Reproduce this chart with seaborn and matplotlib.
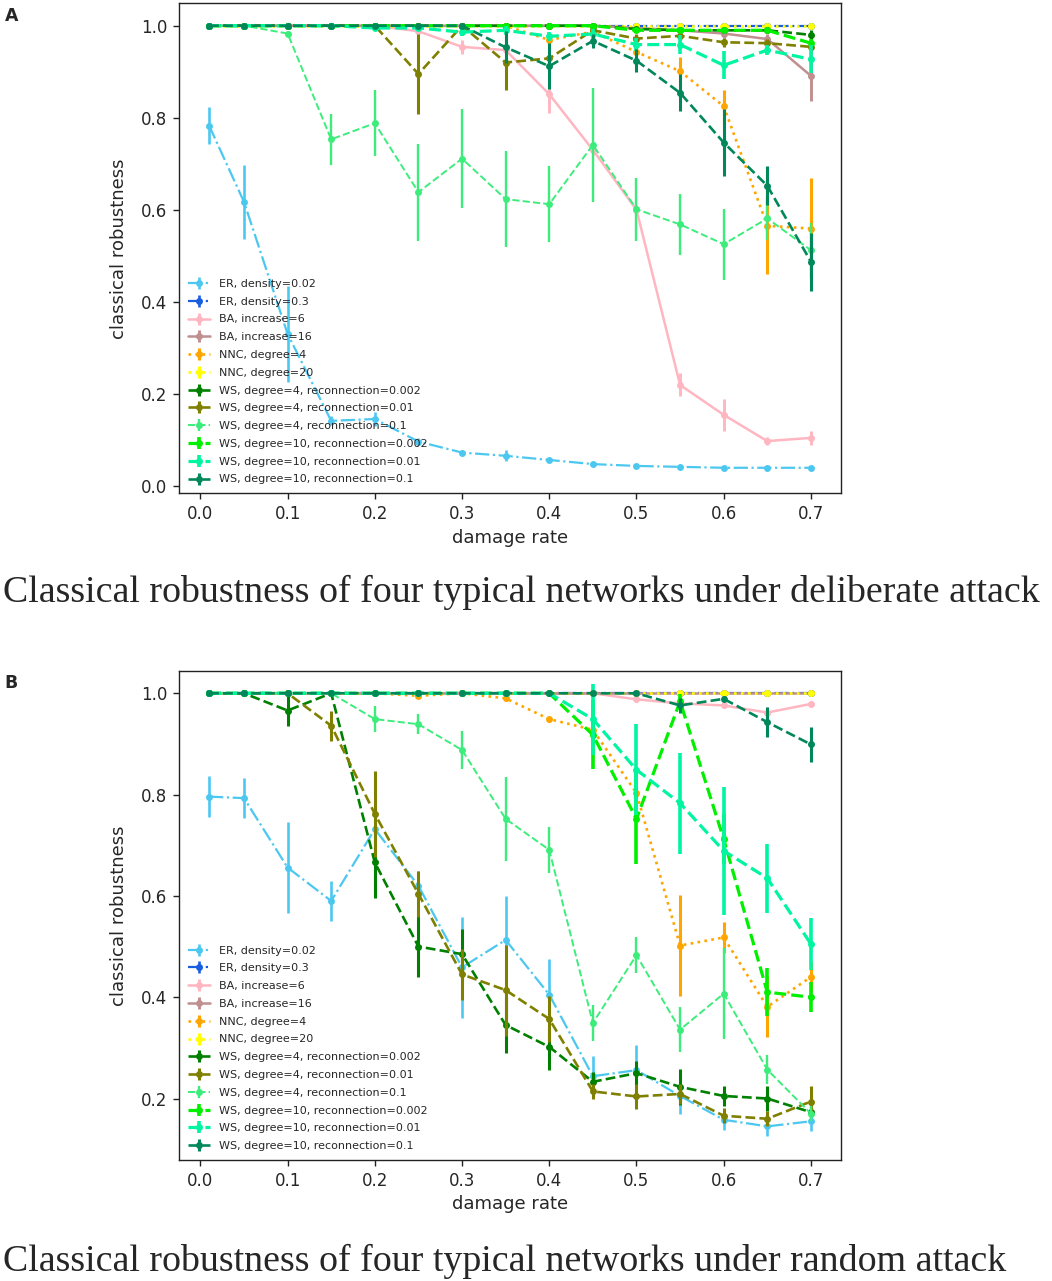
import matplotlib
matplotlib.use("Agg")
import matplotlib.pyplot as plt
from matplotlib.lines import Line2D
from matplotlib.legend_handler import HandlerTuple
import seaborn as sns
import pandas as pd

# ---------------- data ----------------
damage_rate = [0.01, 0.05, 0.1, 0.15, 0.2, 0.25, 0.3, 0.35, 0.4, 0.45, 0.5, 0.55, 0.6, 0.65, 0.7]

labels = ["ER, density=0.02", "ER, density=0.3", "BA, increase=6", "BA, increase=16",
          "NNC, degree=4", "NNC, degree=20",
          "WS, degree=4, reconnection=0.002", "WS, degree=4, reconnection=0.01",
          "WS, degree=4, reconnection=0.1", "WS, degree=10, reconnection=0.002",
          "WS, degree=10, reconnection=0.01", "WS, degree=10, reconnection=0.1"]

# Panel A: deliberate attack
A_er002 = [0.783, 0.617, 0.33, 0.141, 0.145, 0.096, 0.072, 0.065, 0.056, 0.047, 0.043, 0.041, 0.039, 0.039, 0.039]
A_er002_err = [0.04, 0.08, 0.105, 0.01, 0.015, 0.008, 0.006, 0.012, 0.005, 0.004, 0.004, 0.003, 0.003, 0.003, 0.003]
A_er03 = [1.0] * 15
A_er03_err = [0.0] * 15
A_ba6 = [1.0, 1.0, 1.0, 1.0, 1.0, 0.988, 0.954, 0.947, 0.851, 0.73, 0.60, 0.219, 0.154, 0.097, 0.104]
A_ba6_err = [0, 0, 0, 0, 0, 0.005, 0.015, 0.01, 0.04, 0.01, 0.01, 0.025, 0.035, 0.008, 0.015]
A_ba16 = [1, 1, 1, 1, 1, 1, 1, 1, 1, 1, 0.995, 0.99, 0.983, 0.971, 0.891]
A_ba16_err = [0, 0, 0, 0, 0, 0, 0, 0, 0, 0, 0.005, 0.005, 0.01, 0.01, 0.055]
A_nnc4 = [1, 1, 1, 1, 1, 1, 1, 1, 0.969, 0.987, 0.943, 0.901, 0.825, 0.565, 0.559]
A_nnc4_err = [0, 0, 0, 0, 0, 0, 0, 0, 0.01, 0.01, 0.015, 0.03, 0.035, 0.105, 0.11]
A_nnc20 = [1.0] * 15
A_nnc20_err = [0.0] * 15
A_ws4_0002 = [1, 1, 1, 1, 1, 1, 1, 1, 1, 1, 0.993, 0.99, 0.99, 0.99, 0.98]
A_ws4_0002_err = [0, 0, 0, 0, 0, 0, 0, 0, 0, 0, 0.005, 0.005, 0.005, 0.005, 0.01]
A_ws4_001 = [1, 1, 1, 1, 1, 0.895, 1.0, 0.92, 0.929, 0.99, 0.972, 0.978, 0.964, 0.962, 0.954]
A_ws4_001_err = [0, 0, 0, 0, 0, 0.088, 0.005, 0.06, 0.01, 0.005, 0.01, 0.01, 0.01, 0.01, 0.01]
A_ws4_01 = [1, 1, 0.983, 0.753, 0.788, 0.638, 0.711, 0.623, 0.612, 0.741, 0.601, 0.568, 0.525, 0.581, 0.512]
A_ws4_01_err = [0, 0, 0.005, 0.055, 0.072, 0.105, 0.107, 0.105, 0.083, 0.124, 0.068, 0.067, 0.077, 0.047, 0.06]
A_ws10_0002 = [1, 1, 1, 1, 1, 1, 1, 1, 1, 1, 0.99, 0.99, 0.99, 0.99, 0.962]
A_ws10_0002_err = [0, 0, 0, 0, 0, 0, 0, 0, 0, 0, 0.005, 0.005, 0.005, 0.005, 0.01]
A_ws10_001 = [1, 1, 1, 1, 0.995, 0.995, 0.986, 0.99, 0.977, 0.982, 0.959, 0.959, 0.914, 0.947, 0.927]
A_ws10_001_err = [0, 0, 0, 0, 0.005, 0.005, 0.008, 0.01, 0.01, 0.01, 0.015, 0.02, 0.03, 0.01, 0.03]
A_ws10_01 = [1, 1, 1, 1, 1, 1, 1, 0.953, 0.912, 0.967, 0.924, 0.854, 0.746, 0.652, 0.487]
A_ws10_01_err = [0, 0, 0, 0, 0, 0, 0, 0.035, 0.05, 0.015, 0.025, 0.04, 0.073, 0.042, 0.063]

# Panel B: random attack
B_er002 = [0.796, 0.793, 0.656, 0.59, 0.732, 0.62, 0.459, 0.513, 0.405, 0.244, 0.256, 0.205, 0.158, 0.145, 0.155]
B_er002_err = [0.04, 0.04, 0.09, 0.04, 0.03, 0.03, 0.1, 0.087, 0.07, 0.04, 0.05, 0.035, 0.02, 0.02, 0.02]
B_er03 = [1.0] * 15
B_er03_err = [0.0] * 15
B_ba6 = [1, 1, 1, 1, 1, 1, 1, 1, 1, 1, 0.988, 0.98, 0.976, 0.962, 0.979]
B_ba6_err = [0, 0, 0, 0, 0, 0, 0, 0, 0, 0, 0.005, 0.005, 0.005, 0.01, 0.006]
B_ba16 = [1.0] * 15
B_ba16_err = [0.0] * 15
B_nnc4 = [1, 1, 1, 1, 1, 0.995, 1, 0.99, 0.949, 0.928, 0.803, 0.502, 0.518, 0.381, 0.44]
B_nnc4_err = [0, 0, 0, 0, 0, 0.003, 0, 0.005, 0.005, 0.01, 0.01, 0.1, 0.03, 0.06, 0.03]
B_nnc20 = [1.0] * 15
B_nnc20_err = [0.0] * 15
B_ws4_0002 = [1, 1, 0.966, 1, 0.666, 0.50, 0.485, 0.345, 0.302, 0.233, 0.25, 0.223, 0.205, 0.2, 0.173]
B_ws4_0002_err = [0, 0, 0.03, 0, 0.07, 0.06, 0.05, 0.055, 0.045, 0.02, 0.025, 0.035, 0.02, 0.025, 0.01]
B_ws4_001 = [1, 1, 1, 0.936, 0.762, 0.604, 0.445, 0.414, 0.357, 0.214, 0.204, 0.209, 0.166, 0.16, 0.194]
B_ws4_001_err = [0, 0, 0, 0.03, 0.085, 0.045, 0.05, 0.09, 0.045, 0.015, 0.025, 0.02, 0.015, 0.015, 0.03]
B_ws4_01 = [1, 1, 1, 1, 0.949, 0.939, 0.888, 0.752, 0.691, 0.349, 0.483, 0.336, 0.407, 0.257, 0.17]
B_ws4_01_err = [0, 0, 0, 0, 0.025, 0.02, 0.037, 0.083, 0.045, 0.036, 0.036, 0.045, 0.09, 0.028, 0.015]
B_ws10_0002 = [1, 1, 1, 1, 1, 1, 1, 1, 1, 0.918, 0.752, 0.984, 0.712, 0.41, 0.4]
B_ws10_0002_err = [0, 0, 0, 0, 0, 0, 0, 0, 0, 0.068, 0.09, 0.015, 0.05, 0.047, 0.03]
B_ws10_001 = [1, 1, 1, 1, 1, 1, 1, 1, 1, 0.949, 0.849, 0.783, 0.689, 0.635, 0.505]
B_ws10_001_err = [0, 0, 0, 0, 0, 0, 0, 0, 0, 0.07, 0.09, 0.1, 0.126, 0.068, 0.052]
B_ws10_01 = [1, 1, 1, 1, 1, 1, 1, 1, 1, 1, 1, 0.976, 0.989, 0.943, 0.899]
B_ws10_01_err = [0, 0, 0, 0, 0, 0, 0, 0, 0, 0, 0, 0.015, 0.005, 0.03, 0.035]

captions = ["Classical robustness of four typical networks under deliberate attack",
            "Classical robustness of four typical networks under random attack"]

# ---------------- styles ----------------
colors = ["#4cc8f0", "#1a5ee0", "#ffb6c1", "#c08f8f", "#ffa500", "#ffff00",
          "#008000", "#808000", "#3ded7c", "#00f000", "#00f5a0", "#00875a"]
linestyles = ["-.", "-.", "-", "-", ":", ":", "--", "--", "--", "--", "--", "--"]
linewidths = [1.6, 1.6, 1.8, 1.8, 1.9, 1.9, 1.9, 1.9, 1.4, 2.3, 2.3, 1.9]

sns.set_theme(style="ticks")
plt.rcParams["font.family"] = ["DejaVu Sans"]
plt.rcParams["axes.linewidth"] = 1.0
plt.rcParams["axes.edgecolor"] = "#222222"

W, H = 1052, 1281
fig = plt.figure(figsize=(W / 100, H / 100), dpi=100)

def px_rect(left, top, right, bottom):
    return [left / W, 1 - bottom / H, (right - left) / W, (bottom - top) / H]

axA = fig.add_axes(px_rect(179, 3.3, 841, 493.3))
axB = fig.add_axes(px_rect(179, 671, 841, 1160))

panelA = [(A_er002, A_er002_err), (A_er03, A_er03_err), (A_ba6, A_ba6_err), (A_ba16, A_ba16_err),
          (A_nnc4, A_nnc4_err), (A_nnc20, A_nnc20_err), (A_ws4_0002, A_ws4_0002_err),
          (A_ws4_001, A_ws4_001_err), (A_ws4_01, A_ws4_01_err), (A_ws10_0002, A_ws10_0002_err),
          (A_ws10_001, A_ws10_001_err), (A_ws10_01, A_ws10_01_err)]
panelB = [(B_er002, B_er002_err), (B_er03, B_er03_err), (B_ba6, B_ba6_err), (B_ba16, B_ba16_err),
          (B_nnc4, B_nnc4_err), (B_nnc20, B_nnc20_err), (B_ws4_0002, B_ws4_0002_err),
          (B_ws4_001, B_ws4_001_err), (B_ws4_01, B_ws4_01_err), (B_ws10_0002, B_ws10_0002_err),
          (B_ws10_001, B_ws10_001_err), (B_ws10_01, B_ws10_01_err)]

def draw(ax, panel, ylim, yticks):
    handles = []
    for i, (vals, errs) in enumerate(panel):
        df = pd.DataFrame({"damage rate": damage_rate, "classical robustness": vals})
        c, ls, lw = colors[i], linestyles[i], linewidths[i]
        z = 2 + i
        sns.lineplot(data=df, x="damage rate", y="classical robustness", ax=ax,
                     color=c, linestyle=ls, linewidth=lw, marker="o", markersize=5,
                     markeredgewidth=0, estimator=None, legend=False, zorder=z)
        ax.errorbar(damage_rate, vals, yerr=errs, fmt="none", ecolor=c,
                    elinewidth=lw + 0.3, capsize=0, zorder=z)
        h_line = Line2D([], [], color=c, linestyle=ls, linewidth=lw, marker="o",
                        markersize=5, markeredgewidth=0)
        h_bar = Line2D([], [], color=c, linestyle="none", marker="|", markersize=9,
                       markeredgewidth=lw + 0.3)
        handles.append((h_line, h_bar))
    ax.set_xlim(-0.0245, 0.7345)
    ax.set_ylim(*ylim)
    ax.set_yticks(yticks)
    ax.set_xticks([0.0, 0.1, 0.2, 0.3, 0.4, 0.5, 0.6, 0.7])
    ax.set_xlabel("damage rate", fontsize=13, labelpad=4)
    ax.set_ylabel("classical robustness", fontsize=13, labelpad=9)
    ax.tick_params(axis="both", labelsize=12, length=4.5, width=1.0, pad=4, color="#222222")
    for s in ax.spines.values():
        s.set_visible(True)
    ax.legend(handles, labels, loc="lower left", frameon=False, fontsize=8.0,
              handler_map={tuple: HandlerTuple(ndivide=1)}, labelspacing=0.7,
              borderaxespad=0.4, handlelength=2.0, handletextpad=0.8)

draw(axA, panelA, (-0.0165, 1.0487), [0.0, 0.2, 0.4, 0.6, 0.8, 1.0])
draw(axB, panelB, (0.0786, 1.044), [0.2, 0.4, 0.6, 0.8, 1.0])

fig.text(5 / W, 1 - 7 / H, "A", fontsize=12.5, fontweight="bold", ha="left", va="top")
fig.text(4 / W, 1 - 674 / H, "B", fontsize=12.5, fontweight="bold", ha="left", va="top")

fig.text(3 / W, 1 - 602 / H, captions[0], fontsize=27.3, family="Liberation Serif",
         ha="left", va="baseline")
fig.text(3 / W, 1 - 1271 / H, captions[1], fontsize=27.3, family="Liberation Serif",
         ha="left", va="baseline")

fig.savefig("out.png", dpi=100)
